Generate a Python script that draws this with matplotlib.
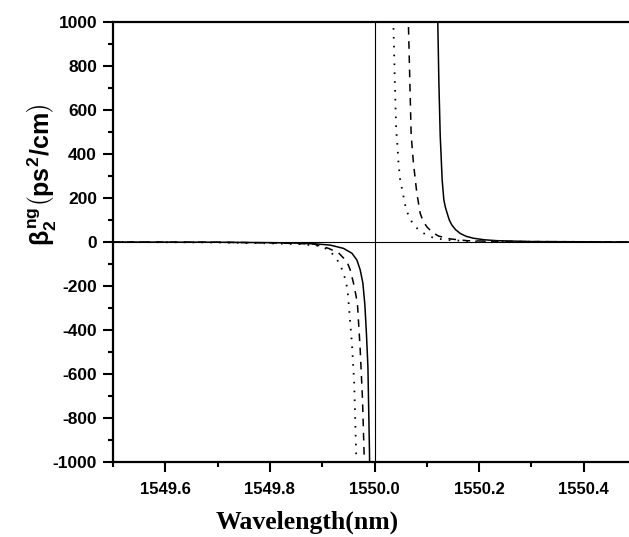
"""Group-velocity dispersion near the 1550 nm resonance."""
import matplotlib
matplotlib.use("Agg")
import matplotlib.pyplot as plt
from matplotlib.ticker import MultipleLocator

plt.rcParams['font.family'] = ['Liberation Sans', 'DejaVu Sans']
plt.rcParams['font.weight'] = 'bold'
plt.rcParams['axes.unicode_minus'] = False
plt.rcParams['mathtext.fontset'] = 'custom'
plt.rcParams['mathtext.rm'] = 'Liberation Sans:bold'
plt.rcParams['mathtext.it'] = 'Liberation Sans:bold'
plt.rcParams['mathtext.bf'] = 'Liberation Sans:bold'

# values (wavelength in nm, beta2 in ps^2/cm)
solid_up_x = [1550.1205, 1550.1210, 1550.1230, 1550.1256, 1550.1294, 1550.1310,
              1550.1326, 1550.1355, 1550.1390, 1550.1430, 1550.1479, 1550.1550,
              1550.1638, 1550.1750, 1550.1893, 1550.2100, 1550.2338, 1550.3000,
              1550.5000]
solid_up_y = [1100, 1000, 735, 486, 281, 236, 191, 158, 130, 100, 77, 56,
              39, 26, 17, 10, 6, 2, 0]

dash_up_x = [1550.0650, 1550.0675, 1550.0701, 1550.0745, 1550.0810, 1550.0873,
             1550.0930, 1550.1001, 1550.1100, 1550.1223, 1550.1447, 1550.1766,
             1550.2500, 1550.5000]
dash_up_y = [976, 735, 486, 357, 221, 131, 94, 69, 45, 27, 14, 6, 2, 0]

dot_up_x = [1550.0363, 1550.0388, 1550.0415, 1550.0440, 1550.0459, 1550.0491,
            1550.0543, 1550.0606, 1550.0669, 1550.0745, 1550.0887, 1550.1032,
            1550.1160, 1550.1384, 1550.2000, 1550.5000]
dot_up_y = [971, 735, 508, 433, 357, 281, 221, 145, 112, 77, 47, 27, 17, 9, 2, 0]

solid_lo_x = [1549.5000, 1549.7000, 1549.8000, 1549.8500, 1549.8899, 1549.9153,
              1549.9408, 1549.9568, 1549.9664, 1549.9727, 1549.9778, 1549.9816,
              1549.9847, 1549.9874, 1549.9904, 1549.9908]
solid_lo_y = [0, -1, -3, -5, -9, -14, -29, -51, -82, -127, -187, -286, -422,
              -566, -952, -1035]

dash_lo_x = [1549.5000, 1549.7000, 1549.8000, 1549.8700, 1549.8834, 1549.9121,
             1549.9312, 1549.9473, 1549.9536, 1549.9599, 1549.9650, 1549.9675,
             1549.9727, 1549.9771, 1549.9803]
dash_lo_y = [0, -1, -4, -8, -9, -29, -49, -89, -127, -187, -248, -286, -490,
             -717, -975]

dot_lo_x = [1549.5000, 1549.7000, 1549.8000, 1549.8600, 1549.8962, 1549.9121,
            1549.9249, 1549.9345, 1549.9408, 1549.9453, 1549.9484, 1549.9507,
            1549.9568, 1549.9612, 1549.9650]
dot_lo_y = [0, -2, -6, -10, -18, -36, -67, -104, -142, -180, -218, -281,
            -460, -641, -967]

W, H = 629, 537
fig = plt.figure(figsize=(W / 100, H / 100), dpi=100)
ax = fig.add_axes([113 / W, (H - 462.3) / H, (636 - 113) / W, (462.3 - 21.7) / H])

dashed = (0, (5, 4.3))
dotted = (0, (0.9, 4.0))
ax.plot(solid_up_x, solid_up_y, color='black', lw=1.1)
ax.plot(solid_lo_x, solid_lo_y, color='black', lw=1.1)
ax.plot(dash_up_x, dash_up_y, color='black', lw=1.1, ls=dashed)
ax.plot(dash_lo_x, dash_lo_y, color='black', lw=1.1, ls=dashed)
ax.plot(dot_up_x, dot_up_y, color='black', lw=1.3, ls=dotted)
ax.plot(dot_lo_x, dot_lo_y, color='black', lw=1.3, ls=dotted)

ax.axhline(0, color='black', lw=0.8)
ax.axvline(1550.0, color='black', lw=0.8)

ax.set_xlim(1549.5, 1550.5)
ax.set_ylim(-1000, 1000)
ax.xaxis.set_minor_locator(MultipleLocator(0.1))
ax.yaxis.set_major_locator(MultipleLocator(200))
ax.yaxis.set_minor_locator(MultipleLocator(100))
ax.set_xticks([1549.6, 1549.8, 1550.0, 1550.2, 1550.4])
ax.set_xticklabels(['1549.6', '1549.8', '1550.0', '1550.2', '1550.4'])
ax.tick_params(which='major', direction='out', length=7, width=1.5)
ax.tick_params(which='minor', direction='out', length=3.5, width=1.5)
ax.tick_params(axis='x', which='major', labelsize=12, pad=7)
ax.tick_params(axis='y', which='major', labelsize=12.5, pad=4.5)
for side in ['left', 'bottom', 'top']:
    ax.spines[side].set_linewidth(1.6)
ax.spines['right'].set_visible(False)

fig.text(42 / W, 1 - 175 / H, r'$\beta_2^{ng}\left(ps^2/cm\right)$',
         rotation=90, ha='center', va='center', fontsize=18)
# the reference crops this label at the bottom edge; keep it just inside
fig.text(307 / W, (H - 529) / H, 'Wavelength(nm)', ha='center', va='baseline',
         fontsize=18.5, fontweight='bold', family=['Liberation Serif', 'DejaVu Serif'])

fig.savefig('out.png', dpi=100)
